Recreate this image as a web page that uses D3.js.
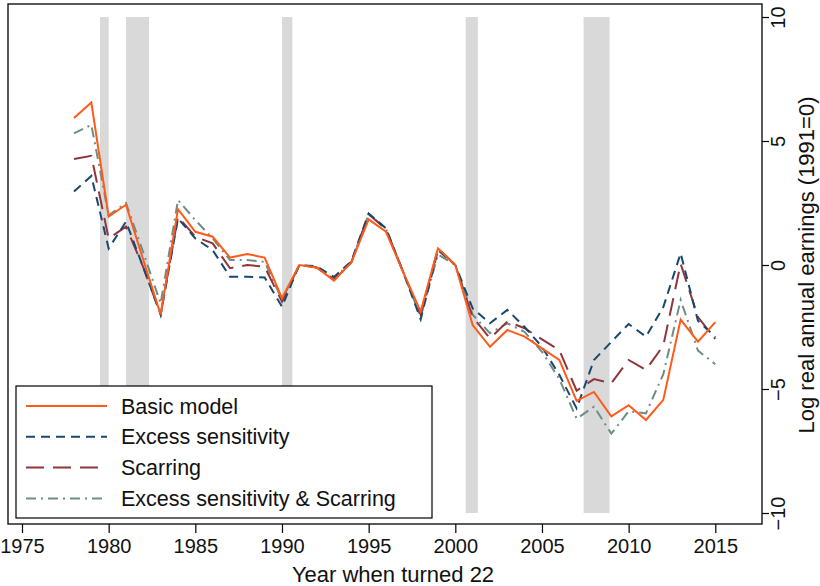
<!DOCTYPE html>
<html>
<head>
<meta charset="utf-8">
<script src="https://cdn.jsdelivr.net/npm/d3@7"></script>
<style>
  body { margin: 0; background: #fff; }
  text { font-family: "Liberation Sans", Arial, Helvetica, sans-serif; fill: #111; }
</style>
</head>
<body>
<div id="chart"></div>
<script>
var years = d3.range(1978, 2016);

var basicModel = [5.93, 6.55, 1.95, 2.43, 0.2, -2.0, 2.25, 1.34, 1.14, 0.3, 0.44, 0.3, -1.34, 0, -0.1, -0.63, 0.1, 1.84, 1.34, -0.3,
    -1.88, 0.67, 0, -2.42, -3.3, -2.62, -2.89, -3.36, -3.83, -5.48, -5.12, -6.1, -5.65, -6.25, -5.44, -2.2, -3.09, -2.3];
var excessSens = [2.96, 3.59, 0.67, 1.75, -0.1, -2.0, 1.88, 1.07, 0.6, -0.47, -0.47, -0.5, -1.68, 0, -0.05, -0.48, 0.15, 2.08, 1.48, -0.3,
    -2.19, 0.6, 0, -1.75, -2.35, -1.81, -2.5, -3.3, -4.43, -5.78, -3.83, -3.1, -2.38, -2.89, -1.7, 0.47, -2.25, -2.9];
var scarring = [4.27, 4.4, 1.07, 1.55, -0.1, -2.0, 1.95, 1.14, 0.87, -0.13, 0.0, -0.07, -1.48, 0, -0.1, -0.6, 0.1, 2.05, 1.45, -0.3,
    -2.0, 0.67, 0, -2.1, -2.96, -2.28, -2.55, -3.0, -3.43, -5.07, -4.6, -4.77, -3.83, -4.23, -3.25, 0.05, -2.1, -2.98];
var excessScar = [5.31, 5.65, 2.0, 2.5, 0.5, -1.55, 2.62, 1.81, 1.07, 0.2, 0.2, 0.13, -1.4, 0, -0.1, -0.55, 0.12, 2.05, 1.45, -0.3,
    -2.1, 0.43, 0, -2.0, -2.75, -2.35, -2.7, -3.5, -4.6, -6.2, -5.71, -6.8, -5.9, -5.98, -4.4, -1.41, -3.45, -4.0];

var seriesNames = ["Basic model", "Excess sensitivity", "Scarring", "Excess sensitivity & Scarring"];
var recessionStart = [1979.5, 1981.0, 1990.0, 2000.6, 2007.4];
var recessionEnd = [1980.0, 1982.33, 1990.6, 2001.3, 2008.9];
var xTicks = [1975, 1980, 1985, 1990, 1995, 2000, 2005, 2010, 2015];
var yTicks = [-10, -5, 0, 5, 10];

var width = 820, height = 586,
    frame = {left: 8, top: 4, right: 762, bottom: 524},
    svg = d3.select("#chart").append("svg")
        .attr("width", width)
        .attr("height", height),
    x = d3.scaleLinear().domain([1975, 2015]).range([22, 715.3]),
    y = d3.scaleLinear().domain([-10, 10]).range([513, 17]);

var styles = [
    {color: "#ff5a1a", dash: null},
    {color: "#1a476f", dash: "9,6"},
    {color: "#90353b", dash: "18,9"},
    {color: "#6e8e84", dash: "10,5,2,5"}
];
var allSeries = [basicModel, excessSens, scarring, excessScar];

// recession shading
svg.selectAll("rect.rec")
    .data(recessionStart)
    .enter().append("rect")
    .attr("class", "rec")
    .attr("x", function (d) { return x(d); })
    .attr("width", function (d, i) { return x(recessionEnd[i]) - x(d); })
    .attr("y", y(10))
    .attr("height", y(-10) - y(10))
    .attr("fill", "#d9d9d9");

var line = d3.line()
    .x(function (d, i) { return x(years[i]); })
    .y(function (d) { return y(d); });

// draw in reverse so basic model sits on top
d3.range(allSeries.length).reverse().forEach(function (k) {
    svg.append("path")
        .datum(allSeries[k])
        .attr("d", line)
        .attr("fill", "none")
        .attr("stroke", styles[k].color)
        .attr("stroke-width", 2)
        .attr("stroke-dasharray", styles[k].dash);
});

// plot frame
svg.append("rect")
    .attr("x", frame.left)
    .attr("y", frame.top)
    .attr("width", frame.right - frame.left)
    .attr("height", frame.bottom - frame.top)
    .attr("fill", "none")
    .attr("stroke", "#000")
    .attr("stroke-width", 1.3);

// axes
var xAxis = svg.append("g")
    .attr("transform", "translate(0," + frame.bottom + ")")
    .call(d3.axisBottom(x).tickValues(xTicks).tickFormat(d3.format("d")).tickSize(9).tickPadding(6));
xAxis.select(".domain").remove();
xAxis.selectAll("line").attr("stroke", "#000").attr("stroke-width", 1.2);
xAxis.selectAll("text").style("font-size", "20px").attr("fill", "#111");

var yAxis = svg.append("g")
    .attr("transform", "translate(" + frame.right + ",0)")
    .call(d3.axisRight(y).tickValues(yTicks).tickSize(7).tickFormat(d3.format("d")));
yAxis.select(".domain").remove();
yAxis.selectAll("line").attr("stroke", "#000").attr("stroke-width", 1.2);
yAxis.selectAll("text")
    .style("font-size", "20px")
    .attr("fill", "#111")
    .attr("x", null).attr("dy", null)
    .attr("text-anchor", "middle")
    .attr("transform", "translate(23,0) rotate(-90)");

svg.append("text")
    .attr("x", 393)
    .attr("y", 582)
    .attr("text-anchor", "middle")
    .style("font-size", "22px")
    .text("Year when turned 22");

svg.append("text")
    .attr("transform", "translate(814," + y(0) + ") rotate(-90)")
    .attr("text-anchor", "middle")
    .style("font-size", "22px")
    .text("Log real annual earnings (1991=0)");

// legend
var legend = svg.append("g");
legend.append("rect")
    .attr("x", 16).attr("y", 386)
    .attr("width", 416).attr("height", 132)
    .attr("fill", "#fff")
    .attr("stroke", "#000")
    .attr("stroke-width", 1.2);

var rows = legend.selectAll("g.row")
    .data(seriesNames)
    .enter().append("g")
    .attr("class", "row")
    .attr("transform", function (d, i) { return "translate(0," + (406 + i * 30.8) + ")"; });

rows.append("line")
    .attr("x1", 26).attr("x2", 107)
    .attr("stroke", function (d, i) { return styles[i].color; })
    .attr("stroke-width", 2)
    .attr("stroke-dasharray", function (d, i) { return styles[i].dash; });

rows.append("text")
    .attr("x", 121)
    .attr("dy", "0.35em")
    .style("font-size", "21.5px")
    .text(function (d) { return d; });
</script>
</body>
</html>
